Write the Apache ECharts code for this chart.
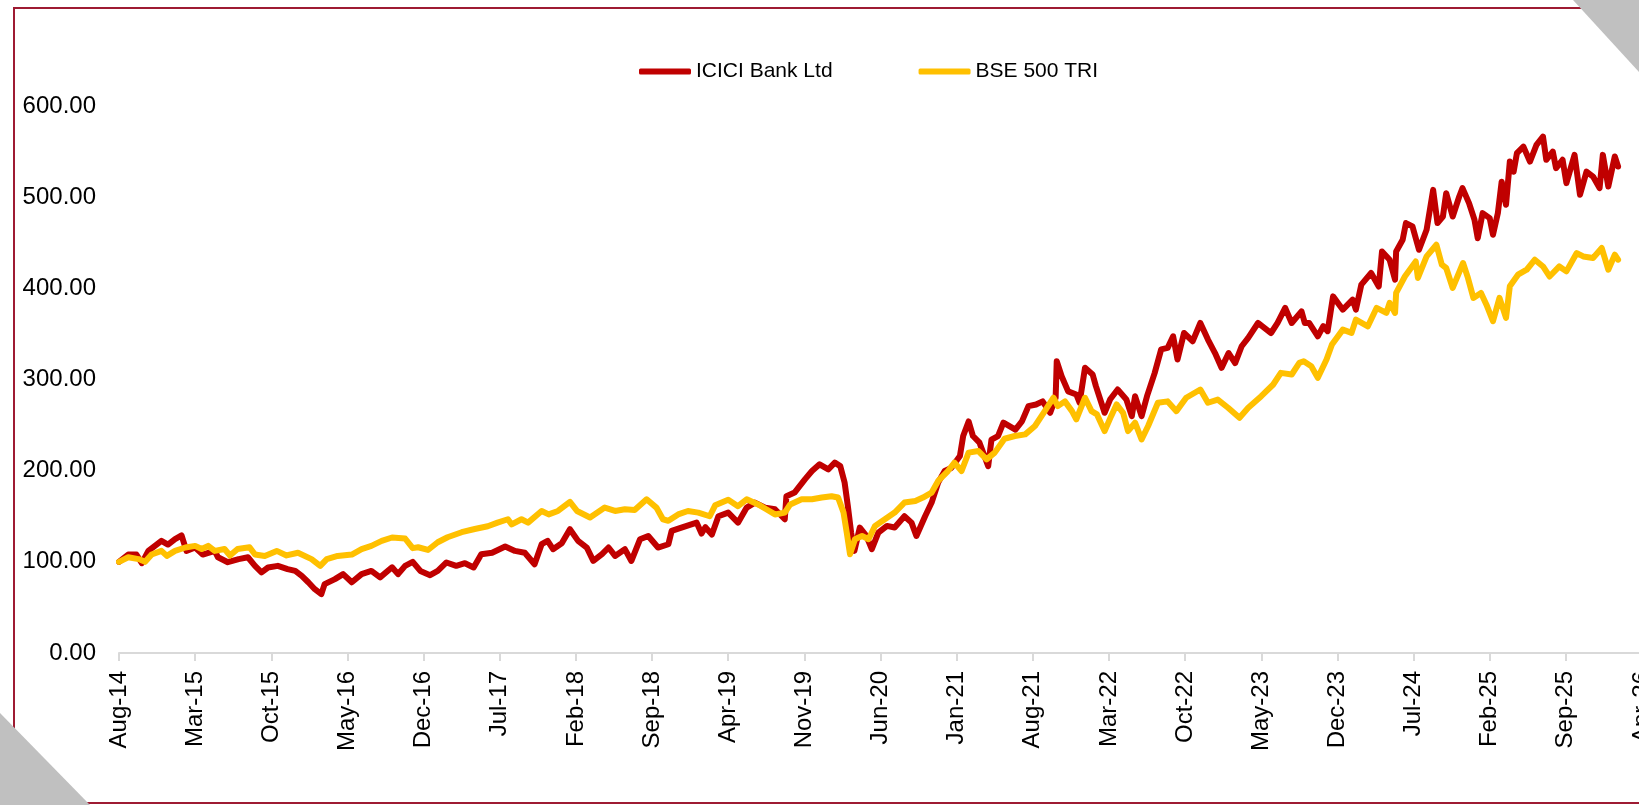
<!DOCTYPE html>
<html>
<head>
<meta charset="utf-8">
<title>ICICI Bank Ltd vs BSE 500 TRI</title>
<script src="https://cdn.jsdelivr.net/npm/echarts@6/dist/echarts.min.js"></script>
<style>
    html, body { margin: 0; padding: 0; background: #fff; overflow: hidden; }
    #main { width: 1639px; height: 805px; }
</style>
</head>
<body>
<div id="main"></div>
<script>
// x 轴刻度标签 (每 7 个月一个)
var tickLabels = ['Aug-14', 'Mar-15', 'Oct-15', 'May-16', 'Dec-16', 'Jul-17', 'Feb-18', 'Sep-18', 'Apr-19', 'Nov-19',
    'Jun-20', 'Jan-21', 'Aug-21', 'Mar-22', 'Oct-22', 'May-23', 'Dec-23', 'Jul-24', 'Feb-25', 'Sep-25', 'Apr-26'];

// ICICI Bank Ltd : 月份 (从 Aug-14 起) 和指数值
var icMonth = [0, 0.85, 1.6, 2.1, 2.7, 3.9, 4.5, 5.15, 5.75, 6.2,
    7.0, 7.7, 8.8, 9.1, 10.0, 11.0, 11.85, 12.5, 13.1, 13.7,
    14.6, 15.5, 16.2, 16.8, 17.4, 18.0, 18.6, 18.9, 19.85, 20.6,
    21.4, 22.3, 23.2, 24.0, 25.1, 25.65, 26.3, 27.0, 27.7, 28.6,
    29.3, 30.1, 31.0, 31.8, 32.6, 33.3, 34.3, 35.5, 36.4, 37.3,
    38.2, 38.85, 39.4, 39.9, 40.7, 41.45, 42.2, 43.0, 43.6, 44.4,
    45.0, 45.6, 46.5, 47.1, 47.9, 48.65, 49.55, 50.5, 50.8, 51.7,
    53.1, 53.55, 53.9, 54.5, 55.1, 56.0, 56.9, 57.7, 58.45, 59.4,
    60.3, 61.2, 61.35, 62.1, 63.05, 63.7, 64.4, 65.2, 65.8, 66.3,
    66.7, 67.0, 67.3, 67.6, 68.1, 68.7, 69.2, 69.8, 70.6, 71.3,
    72.2, 72.85, 73.3, 74.1, 74.7, 75.3, 75.9, 76.5, 77.3, 77.6,
    78.1, 78.5, 79.1, 79.9, 80.2, 80.8, 81.3, 82.4, 83.0, 83.6,
    84.3, 84.9, 85.6, 86.1, 86.2, 86.65, 87.25, 88.0, 88.3, 88.8,
    89.5, 89.8, 90.6, 91.1, 91.8, 92.6, 93.1, 93.4, 94.0, 94.5,
    95.2, 95.8, 96.4, 96.9, 97.3, 97.9, 98.7, 99.4, 100.1, 100.75,
    101.35, 102.0, 102.6, 103.2, 103.8, 104.7, 105.9, 106.5, 107.2, 107.8,
    108.7, 109.0, 109.4, 110.2, 110.7, 111.1, 111.6, 112.5, 113.4, 113.7,
    114.2, 115.1, 115.8, 116.1, 116.8, 117.3, 117.4, 118.0, 118.3, 118.9,
    119.5, 120.2, 120.8, 121.2, 121.7, 122.0, 122.6, 123.2, 123.5, 124.1,
    124.6, 124.9, 125.35, 126.0, 126.3, 126.75, 127.1, 127.5, 127.85, 128.2,
    128.5, 129.1, 129.7, 130.3, 130.9, 131.2, 131.8, 132.1, 132.7, 133.05,
    133.8, 134.3, 134.9, 135.5, 136.1, 136.4, 136.9, 137.5, 137.8];
var icValue = [100, 108, 108, 98.5, 112, 123, 119, 125, 129, 112,
    115.7, 108, 112, 105, 99.6, 103, 105, 95.6, 88.5, 93.8,
    95.6, 92, 90, 84.6, 77.6, 70, 64.6, 75.5, 81, 86.5,
    77.6, 86.5, 90, 83, 94, 86.5, 95.6, 100, 90, 85.4,
    90, 99.3, 95.6, 98.5, 93.8, 108.4, 110, 116.8, 112, 110,
    97.4, 119.3, 123, 113.9, 120.4, 135.8, 123, 115.7, 101, 108.4,
    115.7, 106.5, 113.9, 101, 124.8, 128.4, 115.7, 119.3, 133.9, 137.6,
    143, 131, 138, 130, 150, 154, 143, 159.5, 165, 159.5,
    157.7, 146.7, 172, 176, 190.5, 199.6, 207, 201.5, 208.8, 205,
    187, 161, 132, 112, 137.6, 128.4, 113.9, 132, 139.4, 137.6,
    150, 143, 128.4, 150, 165, 187, 199.6, 203, 216, 238,
    254, 238, 230.7, 205, 234, 238, 252.6, 245, 254, 270.8,
    272.6, 276, 263.5, 280, 320, 303.6, 287, 283.6, 274.5, 312.8,
    305.5, 292.7, 263.5, 278, 289, 278, 259.8, 281.7, 259.8, 281.7,
    307, 333, 334.7, 347.4, 322, 351, 342, 362, 343.8, 329,
    312.8, 329, 318, 336.5, 345.7, 362, 351, 362, 378.5, 362,
    374.8, 362, 362, 347.4, 358.4, 353, 391.2, 376.6, 387.6, 376.6,
    404, 416.8, 402, 440.5, 431.4, 409.5, 440.5, 453.3, 471.6, 467.9,
    442.3, 464.2, 508, 471.6, 478.8, 504.4, 478.8, 500.7, 509.9, 493.5,
    475.2, 455, 482.5, 477, 458.8, 482.5, 517, 491.6, 539, 528,
    548.2, 555.5, 539, 557.3, 566.4, 541, 550, 531.8, 541, 515.4,
    546.4, 502.6, 528, 522.6, 509.9, 546.4, 511.7, 544.6, 533.6];

// BSE 500 TRI : 月份 (从 Aug-14 起) 和指数值
var bseMonth = [0, 0.85, 1.8, 2.4, 3.0, 3.9, 4.4, 5.15, 6.1, 7.0,
    7.6, 8.2, 8.8, 9.7, 10.2, 10.9, 12.0, 12.5, 13.4, 14.5,
    15.4, 16.45, 17.7, 18.5, 19.1, 20.1, 21.4, 22.3, 23.2, 24.15,
    25.1, 26.3, 27.0, 27.5, 28.4, 29.3, 30.2, 31.5, 32.7, 33.9,
    34.8, 35.75, 36.1, 37.0, 37.6, 38.85, 39.5, 40.35, 41.45, 42.1,
    43.3, 44.65, 45.6, 46.5, 47.4, 48.5, 49.4, 50.0, 50.5, 51.4,
    52.3, 53.25, 54.3, 54.8, 56.0, 56.9, 57.7, 58.75, 59.5, 60.3,
    61.2, 61.7, 62.75, 63.7, 64.6, 65.5, 66.1, 66.6, 66.9, 67.2,
    67.65, 68.3, 68.9, 69.5, 70.4, 71.3, 72.2, 73.2, 73.9, 74.7,
    75.3, 76.2, 76.8, 77.45, 78.1, 79.0, 79.75, 80.5, 81.4, 82.35,
    83.3, 84.2, 85.1, 85.9, 86.3, 86.95, 87.6, 88.0, 88.8, 89.4,
    89.9, 90.6, 91.2, 91.7, 92.3, 92.75, 93.4, 94.0, 94.6, 95.5,
    96.4, 97.2, 98.1, 99.4, 100.1, 101.0, 101.95, 103.0, 103.8, 105.0,
    106.1, 106.8, 107.8, 108.5, 108.9, 109.6, 110.2, 111.0, 111.5, 112.5,
    113.3, 113.7, 114.8, 115.6, 116.5, 116.8, 117.3, 117.4, 118.2, 119.2,
    119.4, 120.2, 121.1, 121.6, 122.0, 122.6, 123.55, 124.0, 124.5, 125.2,
    125.7, 126.3, 126.9, 127.5, 127.85, 128.6, 129.4, 130.15, 130.9, 131.5,
    132.4, 133.05, 134.0, 134.6, 135.5, 136.3, 136.9, 137.5, 137.8];
var bseValue = [100, 105, 103, 100, 108, 112, 106.5, 112, 115.7, 117.5,
    114, 117.5, 112, 114, 107, 114, 116, 108, 106.5, 112,
    107, 110, 103, 95.6, 103, 106.5, 108, 114, 117.5, 123,
    126.7, 125.6, 115, 116, 113, 121.5, 127, 132.5, 136, 139,
    143, 146.7, 141, 146.7, 143, 155.8, 152, 155.8, 165.7, 155.8,
    148.6, 159.5, 155.8, 157.7, 156.8, 168.6, 159.5, 146.7, 145, 152,
    155.8, 154, 150, 162, 168, 161, 168.6, 163, 157.7, 152,
    154, 163, 168.6, 168.6, 170.5, 172, 170.5, 154, 132, 108.4,
    124.8, 128.4, 124.8, 139.4, 146.7, 154, 165, 166.8, 170.5, 176,
    188.7, 199.6, 208.8, 199.6, 219.8, 221.5, 212.4, 219.8, 235, 238,
    239.8, 249, 265.3, 280, 270.8, 276, 265.3, 256.2, 280, 265.3,
    261.7, 243.4, 259.8, 272.6, 263.5, 243.4, 252.6, 234.3, 249, 274.5,
    276, 265.3, 280, 289, 274.5, 278, 269, 258, 269, 281.7,
    294.5, 307.3, 305.5, 318.3, 320, 314.6, 301.9, 322, 338.3, 354.7,
    351.1, 365.7, 358.4, 378.5, 373, 384, 373, 395, 413, 429.5,
    411.4, 435, 447.8, 425.9, 422.3, 400.4, 427.8, 411.4, 389.5, 395,
    382.1, 363.9, 389.5, 367.6, 402.2, 415, 420.4, 431.4, 424, 413,
    424, 418.6, 438.7, 435, 433.3, 444.2, 420.4, 436.9, 431.4];

var font = "'Liberation Sans', Arial, sans-serif";

function pairs(xs, ys) {
    return xs.map(function (x, i) { return [x, ys[i]]; });
}

var myChart = echarts.init(document.getElementById('main'), null, { renderer: 'canvas' });

var option = {
    animation: false,
    backgroundColor: '#ffffff',
    textStyle: { fontFamily: font },
    // 图例
    legend: {
        left: 639,
        top: 61,
        padding: 0,
        itemGap: 86,
        itemWidth: 52,
        itemHeight: 6,
        icon: 'roundRect',
        textStyle: { fontSize: 21, color: '#000', fontFamily: font },
        data: ['ICICI Bank Ltd', 'BSE 500 TRI']
    },
    // 右侧超出画布, 最后一个刻度标签被截掉
    grid: {
        left: 119,
        top: 106,
        right: -3,
        bottom: 152,
        outerBoundsMode: 'none',
        containLabel: false
    },
    // X 轴: 月份序号, 每 7 个月一个刻度
    xAxis: {
        type: 'value',
        min: 0,
        max: 140,
        interval: 7,
        axisLine: { show: true, lineStyle: { color: '#d9d9d9', width: 2 } },
        axisTick: { show: true, length: 8, lineStyle: { color: '#d9d9d9', width: 2 } },
        splitLine: { show: false },
        axisLabel: {
            rotate: 90,
            margin: 18,
            fontSize: 24,
            color: '#000',
            fontFamily: font,
            formatter: function (v) {
                return tickLabels[Math.round(v / 7)] || '';
            }
        }
    },
    yAxis: {
        type: 'value',
        min: 0,
        max: 600,
        interval: 100,
        axisLine: { show: false },
        axisTick: { show: false },
        splitLine: { show: false },
        axisLabel: {
            margin: 23,
            fontSize: 24,
            color: '#000',
            fontFamily: font,
            formatter: function (v) { return v.toFixed(2); }
        }
    },
    series: [
        {
            name: 'ICICI Bank Ltd',
            type: 'line',
            showSymbol: false,
            symbol: 'none',
            color: '#c00000',
            lineStyle: { width: 6, color: '#c00000', cap: 'round', join: 'round' },
            data: pairs(icMonth, icValue)
        },
        {
            name: 'BSE 500 TRI',
            type: 'line',
            showSymbol: false,
            symbol: 'none',
            color: '#ffc000',
            lineStyle: { width: 6, color: '#ffc000', cap: 'round', join: 'round' },
            data: pairs(bseMonth, bseValue)
        }
    ],
    // 外框和角落的灰色三角
    graphic: [
        {
            type: 'rect',
            z: 100,
            shape: { x: 14, y: 8, width: 1700, height: 795 },
            style: { fill: 'none', stroke: '#9e1b32', lineWidth: 2 }
        },
        {
            type: 'polygon',
            z: 101,
            shape: { points: [[1573, 0], [1639, 0], [1639, 72]] },
            style: { fill: '#c0c0c0' }
        },
        {
            type: 'polygon',
            z: 101,
            shape: { points: [[0, 713], [90, 805], [0, 805]] },
            style: { fill: '#c0c0c0' }
        }
    ]
};

myChart.setOption(option);
</script>
</body>
</html>
